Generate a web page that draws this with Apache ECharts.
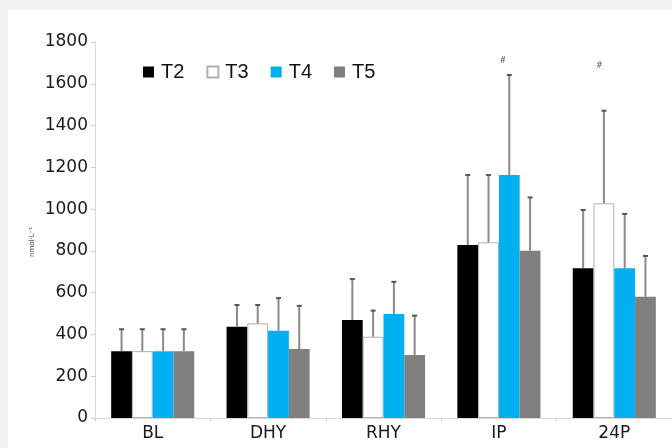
<!DOCTYPE html>
<html>
<head>
<meta charset="utf-8">
<script src="https://cdn.jsdelivr.net/npm/echarts@6/dist/echarts.min.js"></script>
<style>
  html, body { margin: 0; padding: 0; background: #f2f2f2; }
  #chart { width: 672px; height: 448px; }
</style>
</head>
<body>
<div id="chart"></div>
<script>
// Sampling points
const categories = ['BL', 'DHY', 'RHY', 'IP', '24P'];

// Group means (nmol·L-1)
const t2 = [320, 437, 469, 828, 717];
const t3 = [320, 453, 389, 841, 1028];
const t4 = [320, 418, 498, 1163, 717];
const t5 = [320, 330, 302, 801, 581];

// Standard deviations (upper whiskers)
const t2sd = [105, 104, 196, 335, 279];
const t3sd = [105, 88, 125, 322, 443];
const t4sd = [105, 156, 154, 479, 260];
const t5sd = [105, 207, 188, 255, 195];

// Significance marks and the level they sit at
const sigMarks = ['', '', '', '#', '#'];
const sigLevel = [0, 0, 0, 1710, 1685];

const seriesNames = ['T2', 'T3', 'T4', 'T5'];
const yTicks = [0, 200, 400, 600, 800, 1000, 1200, 1400, 1600, 1800];

const means = [t2, t3, t4, t5];
const sds = [t2sd, t3sd, t4sd, t5sd];
const fills = ['#000000', '#ffffff', '#00b0f0', '#7f7f7f'];
const borders = ['#000000', '#b0b0b0', '#00b0f0', '#7f7f7f'];
const CAT_GAP = 0.28;
const sigDx = [0, 0, 0, 4, -15];

const chart = echarts.init(document.getElementById('chart'), null, { renderer: 'canvas' });

const barSeries = means.map((vals, k) => ({
  name: seriesNames[k],
  type: 'bar',
  data: vals,
  barGap: '0%',
  barCategoryGap: (CAT_GAP * 100) + '%',
  itemStyle: { color: fills[k], borderColor: borders[k], borderWidth: k === 1 ? 1 : 0 },
  emphasis: { disabled: true },
  z: 2
}));

const errSeries = means.map((vals, k) => ({
  type: 'custom',
  name: seriesNames[k] + ' sd',
  data: vals.map((v, i) => [i, v, v + sds[k][i]]),
  encode: { x: 0, y: [1, 2] },
  z: 3,
  silent: true,
  renderItem: function (params, api) {
    const i = api.value(0);
    const band = api.size([1, 0])[0];
    const bw = band * (1 - CAT_GAP) / 4;
    const base = api.coord([i, api.value(1)]);
    const top = api.coord([i, api.value(2)]);
    const x = base[0] + (k - 1.5) * bw;
    return {
      type: 'group',
      children: [
        { type: 'line', shape: { x1: x, y1: base[1], x2: x, y2: top[1] },
          style: { stroke: '#8a8a8a', lineWidth: 2 } },
        { type: 'line', shape: { x1: x - 2.5, y1: top[1], x2: x + 2.5, y2: top[1] },
          style: { stroke: '#555555', lineWidth: 2 } }
      ]
    };
  }
}));

const sigSeries = {
  type: 'custom',
  name: 'sig',
  data: sigMarks.map((m, i) => [i, sigLevel[i]]),
  encode: { x: 0, y: 1 },
  z: 4,
  silent: true,
  renderItem: function (params, api) {
    const i = api.value(0);
    if (!sigMarks[i]) return null;
    const p = api.coord([i, api.value(1)]);
    return {
      type: 'text',
      style: { x: p[0] + sigDx[i], y: p[1], text: sigMarks[i], fill: '#555',
               font: '8px "DejaVu Sans"', align: 'center', verticalAlign: 'middle' }
    };
  }
};

chart.setOption({
  backgroundColor: '#f2f2f2',
  animation: false,
  graphic: [
    { type: 'rect', left: 8, top: 10, shape: { width: 664, height: 438 },
      style: { fill: '#ffffff' }, z: -10 },
    { type: 'text', x: 32, y: 242, rotation: Math.PI / 2,
      style: { text: 'nmol·L⁻¹', font: '7px "DejaVu Sans"', fill: '#333',
               align: 'center', verticalAlign: 'middle' } }
  ],
  grid: { left: 95, top: 42, height: 376, width: 584, containLabel: false },
  legend: {
    data: seriesNames,
    left: 143, top: 62,
    padding: 0,
    itemWidth: 11, itemHeight: 11, itemGap: 22,
    icon: 'rect',
    textStyle: { fontFamily: 'Liberation Sans', fontSize: 20, color: '#111', padding: [0, 0, 0, 2] },
    selectedMode: false
  },
  xAxis: {
    type: 'category',
    data: categories,
    axisLine: { lineStyle: { color: '#d8d8d8', width: 1 } },
    axisTick: { show: true, length: 3, lineStyle: { color: '#cccccc' } },
    axisLabel: { fontFamily: 'DejaVu Sans', fontSize: 17, color: '#1a1a1a', margin: 7 }
  },
  yAxis: {
    type: 'value',
    min: 0, max: 1800, interval: 200,
    axisLine: { show: true, lineStyle: { color: '#d8d8d8', width: 1 } },
    axisTick: { show: true, length: 4, lineStyle: { color: '#cccccc' } },
    splitLine: { show: false },
    axisLabel: {
      fontFamily: 'DejaVu Sans', fontSize: 17, color: '#1a1a1a', margin: 7,
      formatter: v => (yTicks.indexOf(v) >= 0 ? String(v) : '')
    }
  },
  series: [...barSeries, ...errSeries, sigSeries]
});
</script>
</body>
</html>
